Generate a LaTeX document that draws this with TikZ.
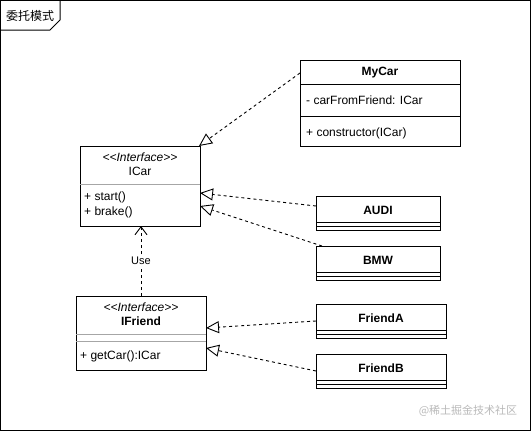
\documentclass[tikz,border=0pt]{standalone}
\usepackage{fontspec}
\setmainfont{Liberation Sans}
\newfontfamily\cjk{Noto Sans CJK SC}
\usetikzlibrary{arrows.meta}
\newcommand{\stereo}[1]{\textless\kern0pt\textless\kern0pt #1\kern0pt\textgreater\kern0pt\textgreater}
\tikzset{
  box/.style={draw, line width=0.9pt, anchor=north west, inner sep=0pt, outer sep=0pt},
  txt/.style={inner sep=0pt, font=\fontsize{12}{14}\selectfont},
  ltxt/.style={txt, anchor=west},
  btxt/.style={txt, font=\fontsize{12}{14}\selectfont\bfseries},
  itxt/.style={txt, font=\fontsize{12}{14}\selectfont\itshape},
  sepline/.style={line width=0.9pt},
  gsep/.style={line width=0.9pt, draw=gray!70},
  real/.style={dashed, dash pattern=on 3pt off 3pt, line width=0.9pt, -{Triangle[open, length=13pt, width=12pt]}},
  usedep/.style={dashed, dash pattern=on 3pt off 3pt, line width=0.9pt, -{Straight Barb[length=8pt, width=12pt]}},
}
\begin{document}
\begin{tikzpicture}[x=1pt, y=-1pt]
\useasboundingbox (0,0) rectangle (531,431);
% frame
\draw[line width=1pt] (0.5,0.5) rectangle (530.5,430.5);
\draw[line width=1pt] (0.5,30) -- (50,30) -- (60,20) -- (60,0.5);
\node[txt, font=\cjk\fontsize{12}{14}\selectfont] (title) at (30,16) {委托模式};

% MyCar
\node[box, minimum width=160pt, minimum height=86pt] (mycar) at (300,60) {};
\node[btxt] (mycarT) at (380,73) {MyCar};
\draw[sepline] ([yshift=-24pt]mycar.north west) -- ([yshift=-24pt]mycar.north east);
\node[ltxt] (mycarA) at (306,100) {- carFromFriend: ICar};
\draw[sepline] ([yshift=-56pt]mycar.north west) -- ([yshift=-56pt]mycar.north east);
\node[ltxt] (mycarM) at (306,133) {+ constructor(ICar)};

% ICar
\node[box, minimum width=120pt, minimum height=80pt] (icar) at (80,146) {};
\node[itxt] (icarS) at (140,157) {\stereo{Interface}};
\node[txt] (icarT) at (140,171) {ICar};
\draw[gsep] ([yshift=-38pt]icar.north west) -- ([yshift=-38pt]icar.north east);
\node[ltxt] (icarM1) at (84,197) {+ start()};
\node[ltxt] (icarM2) at (84,212) {+ brake()};

% AUDI
\node[box, minimum width=124pt, minimum height=34pt] (audi) at (316,196) {};
\node[btxt] (audiT) at (378,210) {AUDI};
\draw[sepline] ([yshift=-26pt]audi.north west) -- ([yshift=-26pt]audi.north east);
\draw[sepline] ([yshift=-30pt]audi.north west) -- ([yshift=-30pt]audi.north east);

% BMW
\node[box, minimum width=124pt, minimum height=34pt] (bmw) at (316,246) {};
\node[btxt] (bmwT) at (378,260) {BMW};
\draw[sepline] ([yshift=-26pt]bmw.north west) -- ([yshift=-26pt]bmw.north east);
\draw[sepline] ([yshift=-30pt]bmw.north west) -- ([yshift=-30pt]bmw.north east);

% IFriend
\node[box, minimum width=130pt, minimum height=74pt] (ifriend) at (76,296) {};
\node[itxt] (ifriendS) at (141,307) {\stereo{Interface}};
\node[btxt] (ifriendT) at (141,321) {IFriend};
\draw[gsep] ([yshift=-38pt]ifriend.north west) -- ([yshift=-38pt]ifriend.north east);
\draw[gsep] ([yshift=-45pt]ifriend.north west) -- ([yshift=-45pt]ifriend.north east);
\node[ltxt] (ifriendM) at (80,356) {+ getCar():ICar};

% FriendA
\node[box, minimum width=130pt, minimum height=34pt] (fa) at (316,304) {};
\node[btxt] (faT) at (381,318) {FriendA};
\draw[sepline] ([yshift=-26pt]fa.north west) -- ([yshift=-26pt]fa.north east);
\draw[sepline] ([yshift=-30pt]fa.north west) -- ([yshift=-30pt]fa.north east);

% FriendB
\node[box, minimum width=130pt, minimum height=34pt] (fb) at (316,354) {};
\node[btxt] (fbT) at (381,368) {FriendB};
\draw[sepline] ([yshift=-26pt]fb.north west) -- ([yshift=-26pt]fb.north east);
\draw[sepline] ([yshift=-30pt]fb.north west) -- ([yshift=-30pt]fb.north east);

% connectors
\draw[real] ([yshift=-13pt]mycar.north west) -- ([xshift=-1pt]icar.north east);
\draw[real] ([yshift=-10pt]audi.north west) -- ([yshift=-47pt]icar.north east);
\draw[real] ([xshift=6pt]bmw.north west) -- ([yshift=-60pt]icar.north east);
\draw[real] (fa.west) -- ([yshift=-32pt]ifriend.north east);
\draw[real] (fb.west) -- ([yshift=-52pt]ifriend.north east);
\draw[usedep] (ifriend.north) -- (ifriend.north |- icar.south)
  node[pos=0.5, fill=white, inner sep=1.5pt, font=\fontsize{11}{13}\selectfont] (uselbl) {Use};

% watermark
\node[txt, text=gray!55, font=\cjk\fontsize{11}{13}\selectfont] (wm) at (468,411) {@稀土掘金技术社区};
\end{tikzpicture}
\end{document}
